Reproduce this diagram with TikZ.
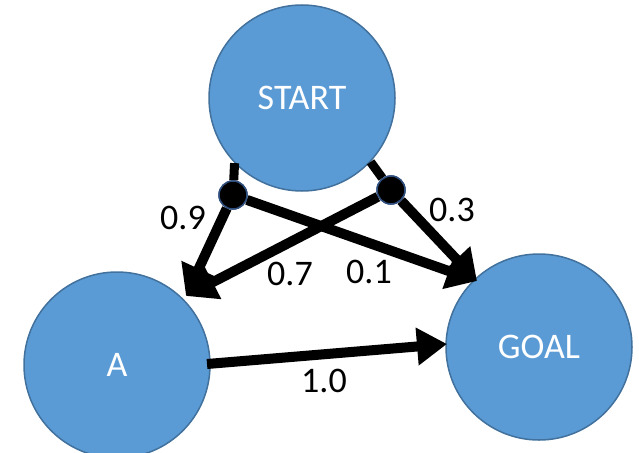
\documentclass[tikz,border=0pt]{standalone}
\usepackage{fontspec}
\setmainfont{Carlito}
\usetikzlibrary{arrows.meta}
\definecolor{nodeblue}{HTML}{5B9BD5}
\definecolor{nodeedge}{HTML}{41719C}
\definecolor{dotedge}{HTML}{2F4F7F}
\tikzset{
  state/.style={circle, fill=nodeblue, draw=nodeedge, line width=1.5pt,
    minimum size=186pt, inner sep=0pt, text=white,
    font=\fontsize{36}{42}\selectfont},
  chance/.style={circle, fill=black, draw=dotedge, line width=1.5pt,
    minimum size=28pt, inner sep=0pt},
  stub/.style={line width=9pt},
  arc/.style={line width=10pt, -{Triangle[length=30pt,width=36pt]}},
  prob/.style={font=\fontsize{36}{42}\selectfont, text=black}
}
\begin{document}
\begin{tikzpicture}[x=1pt,y=-1pt]
  \useasboundingbox (0,0) rectangle (639,452);
  \clip (0,0) rectangle (639,452);

  % states
  \node[state] (start) at (302,98) {START};
  \node[state] (a) at (117,365) {A};
  \node[state] (goal) at (539,347) {GOAL};

  % arrow tips and endpoints
  \coordinate (atip) at (186,296);
  \coordinate (gtip) at (477,281);
  \coordinate (aout) at (207,364);
  \coordinate (gin) at (447,344);

  % chance nodes below START
  \node[chance] (d1) at (233,195) {};
  \node[chance] (d2) at (391,190) {};

  % edges
  \draw[stub] (start.224) -- (d1);
  \draw[stub] (start.317) -- (d2);
  \draw[arc] (d1) -- (atip);
  \draw[arc] (d1) -- (gtip);
  \draw[arc] (d2) -- (atip);
  \draw[arc] (d2) -- (gtip);
  \draw[arc] (aout) -- (gin);

  % redraw chance nodes on top
  \node[chance] at (d1) {};
  \node[chance] at (d2) {};

  % probabilities
  \node[prob] (p09) at (183,218) {0.9};
  \node[prob] (p03) at (452,210) {0.3};
  \node[prob] (p07) at (290,274) {0.7};
  \node[prob] (p01) at (369,272) {0.1};
  \node[prob] (p10) at (324,381) {1.0};
\end{tikzpicture}
\end{document}
